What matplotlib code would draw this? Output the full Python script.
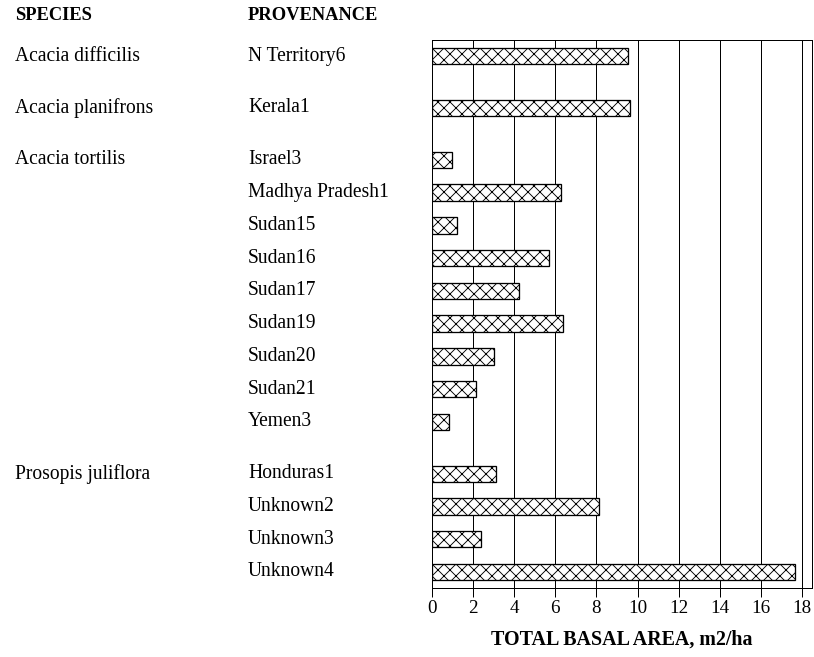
import matplotlib.pyplot as plt
from matplotlib.transforms import blended_transform_factory

species = ["Acacia difficilis", "Acacia planifrons", "Acacia tortilis", "Prosopis juliflora"]
provenances = [
    ["N Territory6"],
    ["Kerala1"],
    ["Israel3", "Madhya Pradesh1", "Sudan15", "Sudan16", "Sudan17",
     "Sudan19", "Sudan20", "Sudan21", "Yemen3"],
    ["Honduras1", "Unknown2", "Unknown3", "Unknown4"],
]
basal_area = [
    [9.55],
    [9.65],
    [0.95, 6.3, 1.2, 5.7, 4.25, 6.35, 3.0, 2.15, 0.85],
    [3.1, 8.15, 2.4, 17.65],
]
x_ticks = list(range(0, 19, 2))

plt.rcParams['font.family'] = ['Liberation Serif', 'DejaVu Serif']
plt.rcParams['hatch.linewidth'] = 0.9

# dpi 72 so font sizes are in pixels
fig = plt.figure(figsize=(814 / 72, 657 / 72), dpi=72)
ax = fig.add_axes([432 / 814, 1 - 588 / 657, 380 / 814, 548 / 657])

# row positions: one step inside a species, a bigger step between species
pos = []
group_first = []
y = 0.0
for names in provenances:
    group_first.append(y)
    for _ in names:
        pos.append(y)
        y += 1
    y += 0.585
pos_last = pos[-1]

values = [v for grp in basal_area for v in grp]
labels = [n for grp in provenances for n in grp]

ax.barh(pos, values, height=0.5, color='white', edgecolor='black',
        linewidth=1.3, hatch='xx', zorder=3)

ax.set_xlim(0, 18.49)
ax.set_ylim(pos_last + 0.49, -0.49)
ax.set_xticks(x_ticks)
ax.set_yticks([])
ax.tick_params(axis='x', direction='out', length=9, width=1, labelsize=19, pad=3)
for sp in ax.spines.values():
    sp.set_linewidth(1)
    sp.set_color('black')
for t in x_ticks[1:]:
    ax.axvline(t, color='black', linewidth=1, zorder=1)

trans = blended_transform_factory(fig.transFigure, ax.transData)
for p, name in zip(pos, labels):
    ax.text(248 / 814, p, name, transform=trans, ha='left', va='center',
            fontsize=19.5, clip_on=False)
for p, name in zip(group_first, species):
    ax.text(15 / 814, p, name, transform=trans, ha='left', va='center',
            fontsize=19.5, clip_on=False)

fig.text(15 / 814, 1 - 16 / 657, "SPECIES", ha='left', va='center',
         fontsize=18.5, fontweight='bold')
fig.text(248 / 814, 1 - 16 / 657, "PROVENANCE", ha='left', va='center',
         fontsize=18.5, fontweight='bold')
fig.text(622 / 814, 1 - 640 / 657, "TOTAL BASAL AREA, m2/ha", ha='center',
         va='center', fontsize=20, fontweight='bold')

fig.savefig('out.png', dpi=72)
